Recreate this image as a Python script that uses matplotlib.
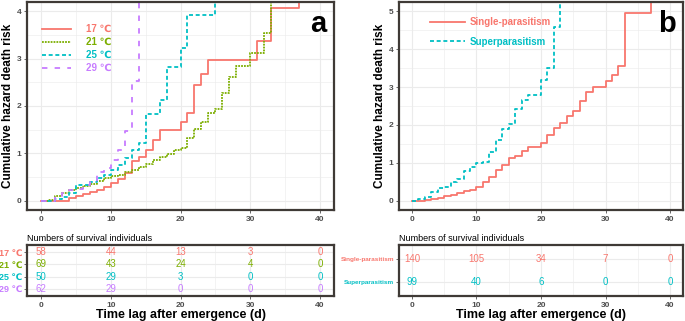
import matplotlib
matplotlib.use("Agg")
import matplotlib.pyplot as plt
from matplotlib.lines import Line2D

plt.rcParams['font.family'] = ['Liberation Sans', 'DejaVu Sans']

# ---- panel a: temperature groups ----
temp_labels = ["17", "21", "25", "29"]
temp_colors = ["#F8766D", "#7CAE00", "#00BFC4", "#C77CFF"]

t17 = [0, 4, 5, 6, 7, 8, 9, 10, 11, 12, 13, 14, 15, 16, 17, 20, 21, 22, 23, 24, 31, 33, 37]
h17 = [0, 0.05, 0.1, 0.14, 0.18, 0.22, 0.28, 0.38, 0.46, 0.58, 0.84, 0.93, 1.06, 1.28, 1.5,
       1.66, 1.86, 2.45, 2.67, 2.97, 3.37, 4.07, 5.5]
t21 = [0, 1, 2, 3, 4, 5, 6, 7, 8, 9, 10, 11, 12, 13, 14, 15, 16, 17, 18, 19, 20, 21, 22, 23,
       24, 25, 26, 27, 28, 30, 32, 33]
h21 = [0, 0.02, 0.1, 0.15, 0.22, 0.26, 0.3, 0.35, 0.41, 0.47, 0.52, 0.55, 0.6, 0.65, 0.72,
       0.78, 0.86, 0.93, 0.99, 1.06, 1.12, 1.33, 1.52, 1.67, 1.85, 1.93, 2.28, 2.62, 2.85,
       3.13, 3.55, 5.5]
t25 = [0, 2, 3, 4, 5, 7, 8, 9, 10, 11, 12, 13, 14, 15, 17, 18, 20, 21, 25]
h25 = [0, 0.04, 0.08, 0.15, 0.33, 0.4, 0.48, 0.55, 0.64, 0.75, 0.9, 1.06, 1.21, 1.83, 2.12,
       2.82, 3.22, 3.92, 5.5]
t29 = [0, 2, 3, 4, 5, 6, 7, 8, 9, 10, 11, 12, 13, 14]
h29 = [0, 0.09, 0.15, 0.22, 0.25, 0.33, 0.4, 0.61, 0.68, 0.86, 1.06, 1.48, 2.52, 5.5]

n17 = [58, 44, 13, 3, 0]
n21 = [69, 43, 24, 4, 0]
n25 = [50, 29, 3, 0, 0]
n29 = [62, 29, 0, 0, 0]

# ---- panel b: parasitism type ----
para_labels = ["Single-parasitism", "Superparasitism"]
para_colors = ["#F8766D", "#00BFC4"]

t_single = [0, 2, 3, 4, 5, 6, 7, 8, 9, 10, 11, 12, 13, 14, 15, 16, 17, 18, 20, 21, 22, 23,
            24, 25, 26, 27, 28, 30, 31, 32, 33, 37]
h_single = [0, 0.02, 0.03, 0.06, 0.11, 0.15, 0.19, 0.24, 0.28, 0.37, 0.5, 0.61, 0.81, 0.93,
            1.13, 1.19, 1.31, 1.42, 1.51, 1.72, 1.93, 2.05, 2.23, 2.37, 2.63, 2.86, 3.0, 3.15,
            3.33, 3.56, 4.95, 6.5]
t_super = [0, 1, 2, 3, 4, 5, 6, 7, 8, 9, 10, 11, 12, 13, 14, 15, 16, 17, 18, 20, 21, 22, 23]
h_super = [0, 0.03, 0.09, 0.22, 0.33, 0.37, 0.48, 0.58, 0.78, 0.9, 0.99, 1.03, 1.29, 1.61,
           1.88, 2.02, 2.43, 2.65, 2.8, 3.2, 3.5, 4.6, 6.5]

n_single = [140, 105, 34, 7, 0]
n_super = [99, 40, 6, 0, 0]

table_times = [0, 10, 20, 30, 40]

BORDER = "#3f3a36"
GRID = "#ebebeb"
TICK = "#4d4d4d"


def style_axes(ax):
    for s in ax.spines.values():
        s.set_color(BORDER)
        s.set_linewidth(1.6)
    ax.set_xlim(-2, 42)
    ax.set_xticks([0, 10, 20, 30, 40])
    ax.set_xticks([5, 15, 25, 35], minor=True)
    ax.grid(True, which='major', color=GRID, lw=0.8)
    ax.grid(True, which='minor', color=GRID, lw=0.4)
    ax.set_axisbelow(True)
    ax.tick_params(which='major', length=2.5, width=0.6, color=TICK, labelcolor=TICK,
                   labelsize=6, pad=1.5)
    ax.tick_params(which='minor', length=0)
    for lab in ax.get_xticklabels():
        lab.set_fontweight('bold')


def draw_main(ax, times, hazards, colors, styles, ymax, letter):
    for t, h, c, ls in zip(times, hazards, colors, styles):
        ax.step(t, h, where='post', color=c, linestyle=ls, lw=1.3)
    style_axes(ax)
    ax.set_ylim(-0.05 * ymax, ymax * 1.05)
    ax.set_yticks(range(0, ymax + 1))
    ax.set_yticks([i + 0.5 for i in range(ymax)], minor=True)
    for lab in ax.get_yticklabels():
        lab.set_fontweight('bold')
    ax.set_ylabel("Cumulative hazard death risk", fontsize=8.5, fontweight='bold', labelpad=2)
    ax.text(0.975, 0.96, letter, transform=ax.transAxes, ha='right', va='top',
            fontsize=21, fontweight='bold')


def draw_table(ax, counts, colors, row_labels, label_size):
    n = len(counts)
    for i, (row, c) in enumerate(zip(counts, colors)):
        y = n - i
        for t, v in zip(table_times, row):
            ax.text(t, y, str(v), color=c, fontsize=7, ha='center', va='center')
    style_axes(ax)
    ax.set_ylim(0.4, n + 0.6)
    ax.set_yticks([n - i for i in range(n)])
    ax.set_yticklabels(row_labels)
    ax.tick_params(axis='y', pad=1)
    for lab, c in zip(ax.get_yticklabels(), colors):
        lab.set_color(c)
        lab.set_fontweight('bold')
        lab.set_fontsize(label_size)
    ax.set_title("Numbers of survival individuals", loc='left', fontsize=6.5, pad=3)
    ax.set_xlabel("Time lag after emergence (d)", fontsize=9, fontweight='bold', labelpad=0)


fig = plt.figure(figsize=(6.85, 3.21), dpi=100)

# panel a
ax_a = fig.add_axes([27 / 685, 1 - 210 / 321, 307 / 685, 208 / 321])
styles_a = ['-', (0, (1, 0.6)), (0, (2.2, 1.5)), (0, (3, 4))]
draw_main(ax_a, [t17, t21, t25, t29], [h17, h21, h25, h29], temp_colors, styles_a, 4, "a")
handles_a = [Line2D([], [], color=c, ls=ls, lw=1.3) for c, ls in zip(temp_colors, styles_a)]
leg_a = ax_a.legend(handles_a, [f"{l} \u2103" for l in temp_labels], loc='upper left',
                    bbox_to_anchor=(0.02, 0.935), frameon=False, fontsize=7, handlelength=3.0,
                    handletextpad=1.5, labelspacing=0.3)
for txt, c in zip(leg_a.get_texts(), temp_colors):
    txt.set_color(c)
    txt.set_fontweight('bold')

# panel b
ax_b = fig.add_axes([399 / 685, 1 - 210 / 321, 284 / 685, 208 / 321])
styles_b = ['-', (0, (2.2, 1.5))]
draw_main(ax_b, [t_single, t_super], [h_single, h_super], para_colors, styles_b, 5, "b")
handles_b = [Line2D([], [], color=c, ls=ls, lw=1.3) for c, ls in zip(para_colors, styles_b)]
leg_b = ax_b.legend(handles_b, para_labels, loc='upper left', bbox_to_anchor=(0.08, 0.97),
                    frameon=False, fontsize=7, handlelength=3.6, handletextpad=0.4,
                    labelspacing=1.0)
for txt, c in zip(leg_b.get_texts(), para_colors):
    txt.set_color(c)
    txt.set_fontweight('bold')

# tables
tab_a = fig.add_axes([27 / 685, 1 - 296 / 321, 307 / 685, 51 / 321])
draw_table(tab_a, [n17, n21, n25, n29], temp_colors,
           [f"{l} \u2103" for l in temp_labels], 6.5)

tab_b = fig.add_axes([399 / 685, 1 - 296 / 321, 284 / 685, 51 / 321])
draw_table(tab_b, [n_single, n_super], para_colors, para_labels, 4.6)

fig.savefig("out.png", dpi=100)
